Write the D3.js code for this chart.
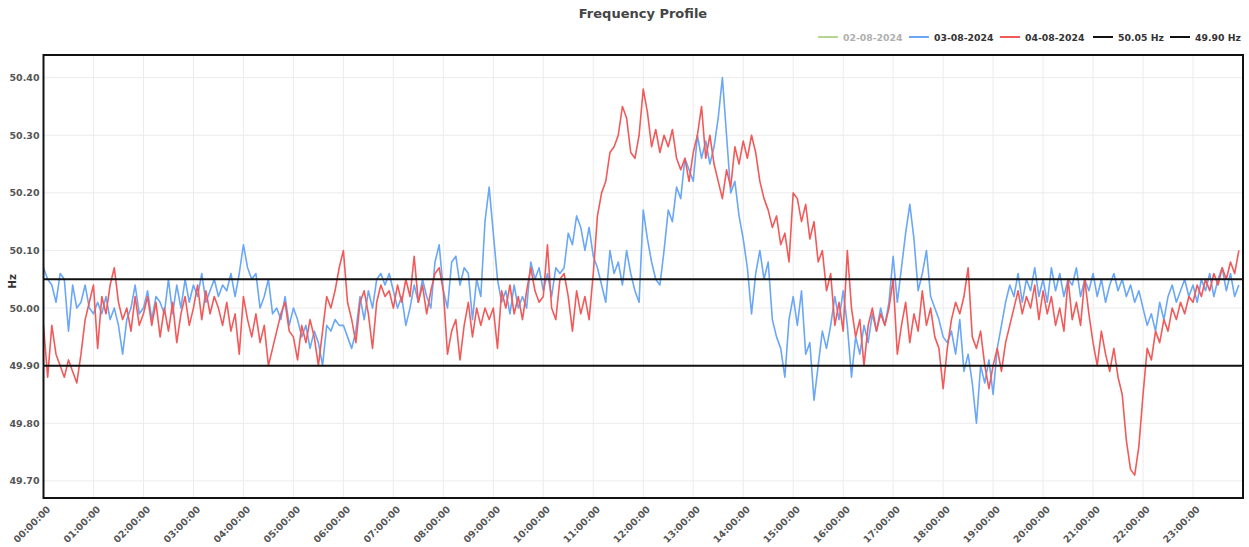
<!DOCTYPE html>
<html>
<head>
<meta charset="utf-8">
<script src="https://cdn.jsdelivr.net/npm/d3@7"></script>
<style>
  body { margin: 0; background: #fff; }
  svg text { font-family: "DejaVu Sans", Verdana, sans-serif; }
</style>
</head>
<body>
<svg id="chart" width="1249" height="547"></svg>
<script>
// ---- data (5-minute samples, 00:00 .. 23:55) ----
const yTicks = [49.70, 49.80, 49.90, 50.00, 50.10, 50.20, 50.30, 50.40];
const hourTicks = ["00:00:00","01:00:00","02:00:00","03:00:00","04:00:00","05:00:00","06:00:00","07:00:00",
  "08:00:00","09:00:00","10:00:00","11:00:00","12:00:00","13:00:00","14:00:00","15:00:00",
  "16:00:00","17:00:00","18:00:00","19:00:00","20:00:00","21:00:00","22:00:00","23:00:00"];
const seriesNames = ["02-08-2024", "03-08-2024", "04-08-2024"];
const limitNames = ["50.05 Hz", "49.90 Hz"];
const limitValues = [50.05, 49.90];

const freq_02_08 = []; // hidden series (no data shown)

const freq_03_08 = [
  50.07,50.05,50.04,50.01,50.06,50.05,49.96,50.04,50.00,50.01,50.04,50.00,
  49.99,50.01,49.99,50.02,49.98,50.00,49.97,49.92,49.98,50.00,50.04,49.99,
  50.00,50.03,49.98,50.02,50.01,49.99,50.05,49.99,50.04,50.00,50.05,50.01,
  50.04,50.02,50.06,50.01,50.03,50.05,50.02,50.04,50.03,50.06,50.02,50.06,
  50.11,50.07,50.05,50.06,50.00,50.02,50.05,49.99,50.00,49.98,50.02,49.97,
  50.00,49.98,49.95,49.97,49.93,49.96,49.94,49.90,49.97,49.96,49.98,49.97,
  49.97,49.95,49.93,49.96,50.02,49.98,50.03,50.00,50.05,50.06,50.04,50.06,
  50.03,50.00,50.02,49.97,50.00,50.04,50.01,50.05,50.02,50.00,50.08,50.11,
  50.03,50.00,50.08,50.09,50.04,50.07,50.06,49.98,50.05,50.02,50.15,50.21,
  50.13,50.05,50.01,50.03,49.99,50.04,50.00,50.02,50.00,50.08,50.05,50.07,
  50.03,50.06,50.02,50.07,50.06,50.07,50.13,50.11,50.16,50.14,50.10,50.14,
  50.09,50.07,50.04,50.01,50.10,50.06,50.08,50.04,50.10,50.06,50.03,50.01,
  50.17,50.12,50.08,50.05,50.04,50.10,50.17,50.15,50.21,50.19,50.26,50.24,
  50.22,50.30,50.26,50.29,50.25,50.28,50.33,50.40,50.30,50.20,50.22,50.16,
  50.12,50.07,49.99,50.06,50.10,50.05,50.08,49.98,49.95,49.93,49.88,49.98,
  50.02,49.97,50.03,49.92,49.94,49.84,49.90,49.96,49.93,49.97,50.02,49.98,
  50.03,49.97,49.88,49.95,49.92,49.97,49.94,49.99,49.96,50.00,49.97,50.01,
  50.09,50.01,50.07,50.13,50.18,50.12,50.03,50.06,50.10,50.02,50.00,49.98,
  49.95,49.94,49.96,49.92,49.98,49.89,49.92,49.87,49.80,49.90,49.87,49.91,
  49.85,49.93,49.97,50.01,50.04,50.02,50.06,50.01,50.05,50.03,50.07,50.02,
  50.05,50.01,50.07,50.03,50.06,50.02,50.05,50.04,50.07,50.02,50.05,50.03,
  50.06,50.02,50.05,50.01,50.04,50.06,50.03,50.05,50.02,50.04,50.01,50.03,
  50.00,49.97,49.99,49.96,50.01,49.98,50.02,50.04,50.01,50.03,50.05,50.02,
  50.04,50.01,50.05,50.03,50.06,50.02,50.05,50.07,50.03,50.06,50.02,50.04
];

const freq_04_08 = [
  49.97,49.88,49.97,49.92,49.90,49.88,49.91,49.89,49.87,49.92,49.98,50.01,
  50.04,49.93,50.02,49.99,50.04,50.07,50.01,49.98,50.00,49.96,50.02,49.97,
  49.99,50.02,49.97,50.01,49.95,50.00,49.96,50.01,49.94,49.99,50.02,49.97,
  50.00,50.04,49.98,50.03,49.99,50.02,50.00,49.97,50.01,49.96,49.99,49.92,
  50.02,49.98,49.95,49.99,49.94,49.97,49.90,49.93,49.96,49.99,50.01,49.96,
  49.95,49.91,49.97,49.94,49.98,49.95,49.90,49.96,50.02,50.00,50.03,50.07,
  50.10,50.01,49.98,49.94,50.01,50.03,49.99,49.93,50.01,50.04,50.02,50.03,
  50.00,50.04,50.01,50.05,50.02,50.09,50.01,50.04,49.99,50.03,50.06,50.07,
  50.03,49.92,49.96,49.98,49.91,49.97,50.01,49.95,50.00,49.97,50.00,49.98,
  50.00,49.93,50.03,50.00,50.04,49.99,50.02,49.98,50.03,50.07,50.03,50.01,
  50.02,50.11,50.00,49.98,50.05,50.06,50.02,49.96,50.03,49.99,50.02,49.98,
  50.06,50.16,50.20,50.22,50.27,50.28,50.30,50.35,50.33,50.27,50.26,50.30,
  50.38,50.34,50.28,50.31,50.27,50.30,50.28,50.31,50.26,50.24,50.26,50.22,
  50.27,50.30,50.35,50.26,50.30,50.25,50.22,50.19,50.24,50.21,50.28,50.25,
  50.29,50.26,50.30,50.27,50.22,50.19,50.17,50.14,50.16,50.11,50.13,50.08,
  50.20,50.19,50.15,50.18,50.12,50.15,50.08,50.10,50.03,50.06,49.97,50.01,
  49.96,50.10,50.00,49.95,49.98,49.90,49.97,50.00,49.96,49.99,49.97,50.00,
  50.05,49.92,49.97,50.01,49.94,49.99,49.96,50.03,49.97,50.00,49.95,49.93,
  49.86,49.93,49.98,50.01,49.99,50.02,50.07,49.95,49.93,49.96,49.90,49.86,
  49.90,49.93,49.89,49.94,49.97,50.00,50.03,49.99,50.02,50.00,50.04,49.98,
  50.03,49.99,50.02,49.97,50.00,49.96,50.05,49.98,50.01,49.97,50.05,49.99,
  49.94,49.90,49.96,49.92,49.89,49.93,49.88,49.85,49.77,49.72,49.71,49.76,
  49.85,49.93,49.91,49.96,49.94,49.98,49.96,50.00,49.98,50.01,49.99,50.02,
  50.01,50.04,50.02,50.05,50.03,50.06,50.04,50.07,50.05,50.08,50.06,50.10
];

const colors = ["#b5d68f", "#6aa7f7", "#f25a5a"];

// ---- layout ----
const svg = d3.select("#chart");
const W = 1249, H = 547;
const m = { left: 43.5, right: 6, top: 55, bottom: 49 };
const plotW = W - m.left - m.right;
const plotH = H - m.top - m.bottom;

const x = d3.scaleLinear().domain([0, 24 * 60]).range([m.left, m.left + plotW]);
const y = d3.scaleLinear().domain([49.6703, 50.4393]).range([m.top + plotH, m.top]);

const toPts = arr => arr.map((v, i) => ({ t: i * 5, v }));
const FONT = "'DejaVu Sans', Verdana, sans-serif";

// title
svg.append("text").attr("x", 643).attr("y", 18).attr("text-anchor", "middle")
  .attr("font-size", 13).attr("font-weight", "bold").attr("fill", "#444").text("Frequency Profile");

// grid
const g = svg.append("g");
g.selectAll(".vg").data(d3.range(1, 24)).join("line")
  .attr("x1", d => x(d * 60)).attr("x2", d => x(d * 60))
  .attr("y1", m.top).attr("y2", m.top + plotH)
  .attr("stroke", "#ececec").attr("stroke-width", 1);
g.selectAll(".hg").data(yTicks).join("line")
  .attr("x1", m.left).attr("x2", m.left + plotW)
  .attr("y1", d => y(d)).attr("y2", d => y(d))
  .attr("stroke", "#ececec").attr("stroke-width", 1);

// axes
const yAxis = d3.axisLeft(y).tickValues(yTicks).tickFormat(d3.format(".2f")).tickSize(0).tickPadding(4);
const ya = svg.append("g").attr("transform", `translate(${m.left},0)`).call(yAxis);
ya.select(".domain").remove();
ya.selectAll("text").attr("font-size", 9.5).attr("font-weight", "bold").attr("fill", "#555")
  .attr("font-family", FONT);

const xAxis = d3.axisBottom(x).tickValues(d3.range(0, 24).map(h => h * 60))
  .tickFormat((d, i) => hourTicks[i]).tickSize(0);
const xa = svg.append("g").attr("transform", `translate(0,${m.top + plotH})`).call(xAxis);
xa.select(".domain").remove();
xa.selectAll("text").attr("font-size", 9.5).attr("font-weight", "bold").attr("fill", "#555")
  .attr("font-family", FONT)
  .attr("text-anchor", "end").attr("dy", 0).attr("y", 0)
  .attr("transform", "translate(7,12) rotate(-45)");

// y title
svg.append("text").attr("transform", `translate(16,${y(50.05) + 2}) rotate(-90)`)
  .attr("text-anchor", "middle").attr("font-size", 10.5).attr("font-weight", "bold").attr("fill", "#333").text("Hz");

// clip
svg.append("clipPath").attr("id", "clip").append("rect")
  .attr("x", m.left).attr("y", m.top).attr("width", plotW).attr("height", plotH);

const line = d3.line().x(d => x(d.t)).y(d => y(d.v));
const plot = svg.append("g").attr("clip-path", "url(#clip)");
[[freq_03_08, colors[1]], [freq_04_08, colors[2]]].forEach(([arr, c]) => {
  plot.append("path").datum(toPts(arr)).attr("d", line)
    .attr("fill", "none").attr("stroke", c).attr("stroke-width", 1.6).attr("stroke-linejoin", "round");
});

// limit lines
plot.selectAll(".lim").data(limitValues).join("line")
  .attr("x1", m.left).attr("x2", m.left + plotW)
  .attr("y1", d => y(d)).attr("y2", d => y(d))
  .attr("stroke", "#111").attr("stroke-width", 2);

// frame
svg.append("rect").attr("x", m.left).attr("y", m.top).attr("width", plotW).attr("height", plotH)
  .attr("fill", "none").attr("stroke", "#111").attr("stroke-width", 2);

// legend
const legendItems = [
  { name: seriesNames[0], color: colors[0], hidden: true, x: 818 },
  { name: seriesNames[1], color: colors[1], hidden: false, x: 909 },
  { name: seriesNames[2], color: colors[2], hidden: false, x: 1000 },
  { name: limitNames[0], color: "#111", hidden: false, x: 1093 },
  { name: limitNames[1], color: "#111", hidden: false, x: 1170 }
];
const lg = svg.append("g");
legendItems.forEach(it => {
  lg.append("line").attr("x1", it.x).attr("x2", it.x + 20).attr("y1", 37).attr("y2", 37)
    .attr("stroke", it.color).attr("stroke-width", 2);
  lg.append("text").attr("x", it.x + 25).attr("y", 40.5).attr("font-size", 9.3).attr("font-weight", "bold")
    .attr("fill", it.hidden ? "#b0b0b0" : "#333").text(it.name);
});
</script>
</body>
</html>
